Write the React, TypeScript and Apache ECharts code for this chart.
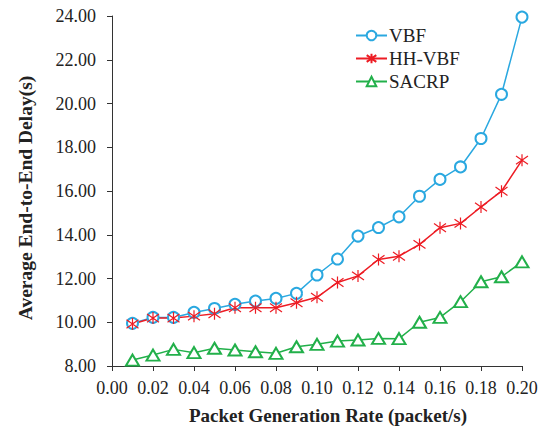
import React, { useEffect, useRef } from "react";
import * as echarts from "echarts";

const rates = [0.01, 0.02, 0.03, 0.04, 0.05, 0.06, 0.07, 0.08, 0.09, 0.1, 0.11, 0.12, 0.13, 0.14, 0.15, 0.16, 0.17, 0.18, 0.19, 0.2];
const vbf = [9.95, 10.22, 10.22, 10.45, 10.63, 10.82, 10.97, 11.09, 11.32, 12.16, 12.89, 13.94, 14.33, 14.82, 15.76, 16.53, 17.1, 18.4, 20.42, 23.95];
const hhvbf = [9.92, 10.19, 10.19, 10.28, 10.39, 10.66, 10.66, 10.66, 10.89, 11.14, 11.82, 12.12, 12.87, 13.02, 13.56, 14.32, 14.52, 15.27, 15.99, 17.41];
const sacrp = [8.27, 8.5, 8.76, 8.61, 8.81, 8.73, 8.65, 8.58, 8.88, 8.99, 9.14, 9.19, 9.26, 9.25, 10.0, 10.22, 10.94, 11.85, 12.08, 12.76];
const seriesNames = ["VBF", "HH-VBF", "SACRP"];

const FONT = '"Liberation Serif", "Times New Roman", serif';
const ASTERISK = "path://M5 0 L5 10 M0.7 1.5 L9.3 8.5 M9.3 1.5 L0.7 8.5";

export default function App() {
  const ref = useRef<HTMLDivElement>(null);
  useEffect(() => {
    if (!ref.current) return;
    const chart = echarts.init(ref.current, null, { renderer: "svg" });
    const pairs = (ys: number[]) => rates.map((x, i) => [x, ys[i]]);
    chart.setOption({
      animation: false,
      backgroundColor: "#fff",
      textStyle: { fontFamily: FONT },
      grid: { left: 112, right: 32, top: 16, bottom: 67 },
      legend: {
        orient: "vertical",
        left: 350,
        top: 21,
        itemWidth: 31,
        itemHeight: 12,
        itemGap: 4,
        data: seriesNames,
        textStyle: { fontFamily: FONT, fontSize: 19, color: "#222", padding: [0, 0, 0, -3] },
      },
      xAxis: {
        type: "value",
        min: 0,
        max: 0.2,
        interval: 0.02,
        name: "Packet Generation Rate (packet/s)",
        nameLocation: "middle",
        nameGap: 40,
        nameTextStyle: { fontFamily: FONT, fontSize: 19, fontWeight: "bold", color: "#222", padding: [0, 0, 0, 22] },
        axisLine: { lineStyle: { color: "#333", width: 1 } },
        axisTick: { inside: false, length: 5, lineStyle: { color: "#333" } },
        axisLabel: { fontFamily: FONT, fontSize: 18, color: "#222", margin: 13, formatter: (v: number) => v.toFixed(2) },
        splitLine: { show: false },
      },
      yAxis: {
        type: "value",
        min: 8,
        max: 24,
        interval: 2,
        name: "Average End-to-End Delay(s)",
        nameLocation: "middle",
        nameGap: 77,
        nameTextStyle: { fontFamily: FONT, fontSize: 19.5, fontWeight: "bold", color: "#222", padding: [0, 14, 0, 0] },
        axisLine: { show: true, lineStyle: { color: "#333", width: 1 } },
        axisTick: { show: true, inside: false, length: 5, lineStyle: { color: "#333" } },
        axisLabel: { fontFamily: FONT, fontSize: 18, color: "#222", margin: 16, formatter: (v: number) => v.toFixed(2) },
        splitLine: { show: false },
      },
      series: [
        {
          name: "VBF",
          type: "line",
          data: pairs(vbf),
          symbol: "emptyCircle",
          symbolSize: 11,
          color: "#2aa8e0",
          lineStyle: { width: 1.5, color: "#2aa8e0" },
          itemStyle: { color: "#2aa8e0", borderWidth: 1.2 },
        },
        {
          name: "HH-VBF",
          type: "line",
          data: pairs(hhvbf),
          symbol: ASTERISK,
          symbolSize: 12,
          color: "#ed1c24",
          lineStyle: { width: 1.5, color: "#ed1c24" },
          itemStyle: { color: "#ed1c24", borderColor: "#ed1c24", borderWidth: 1.2 },
        },
        {
          name: "SACRP",
          type: "line",
          data: pairs(sacrp),
          symbol: "emptyTriangle",
          symbolSize: [13, 11],
          color: "#22b04a",
          lineStyle: { width: 1.5, color: "#22b04a" },
          itemStyle: { color: "#22b04a", borderWidth: 1.5 },
        },
      ],
    });
    return () => chart.dispose();
  }, []);
  return <div ref={ref} style={{ position: "fixed", left: 0, top: 0, width: 554, height: 433 }} />;
}
